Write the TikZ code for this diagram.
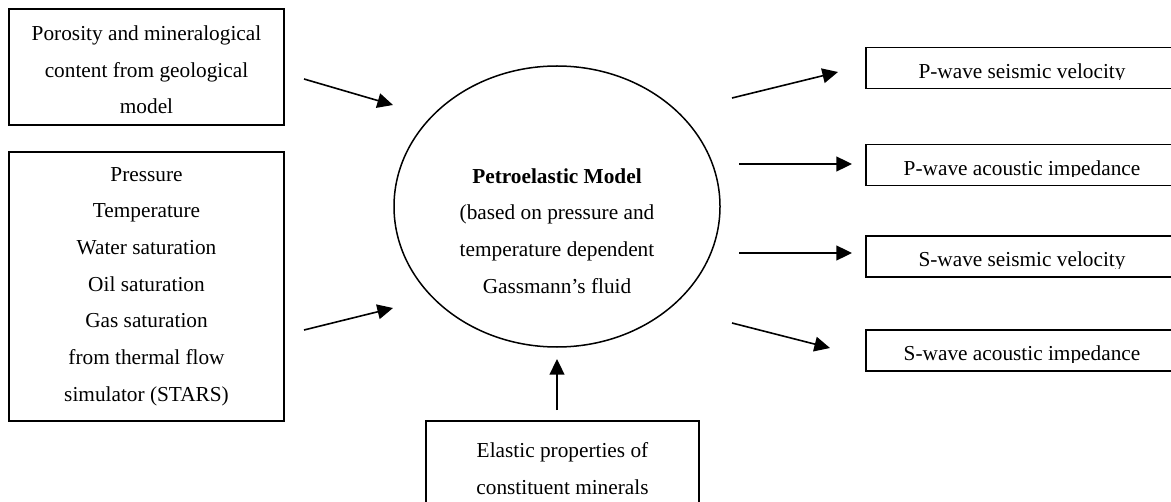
\documentclass[tikz,border=0pt]{standalone}
\usepackage{fontspec}
\setmainfont{Liberation Serif}
\usetikzlibrary{arrows.meta}
\usetikzlibrary{shapes.geometric}

\tikzset{
	inbox/.style={draw, line width=0.9pt, rectangle, align=center, inner sep=0pt, minimum width=137.5pt},
	outbox/.style={draw, line width=0.9pt, rectangle, inner sep=0pt, minimum width=156pt, minimum height=20.5pt},
	flow/.style={-{Triangle[length=7.8pt,width=7.4pt]}, line width=0.8pt}
}

\begin{document}
\begin{tikzpicture}[x=0.5pt, y=-0.5pt, font=\fontsize{10.65pt}{18.35pt}\selectfont]
	\useasboundingbox (0,0) rectangle (1171,502);
	\clip (0,0) rectangle (1171,502);

	% input boxes
	\node[inbox, minimum height=58pt] (poro) at (146.5,67) {};
	\node[align=center] (porotext) at (146.5,70) {Porosity and mineralogical\\content from geological\\model};
	\node[inbox, minimum height=134.5pt] (stars) at (146.5,286.5) {Pressure\\Temperature\\Water saturation\\Oil saturation\\Gas saturation\\from thermal flow\\simulator (STARS)};
	\node[inbox, minimum width=136.5pt, minimum height=47.5pt] (elastic) at (562.5,468.5) {Elastic properties of\\constituent minerals};

	% model
	\node[draw, ellipse, line width=0.75pt, inner sep=0pt, minimum width=163pt, minimum height=140.5pt] (pem) at (557,206.5) {};
	\node[align=center] (pemtext) at (557,231) {\textbf{Petroelastic Model}\\(based on pressure and\\temperature dependent\\Gassmann’s fluid};

	% outputs
	\foreach \nm/\cy/\txt in {pvel/68/{P-wave seismic velocity}, pimp/165/{P-wave acoustic impedance}, svel/256.5/{S-wave seismic velocity}, simp/350.5/{S-wave acoustic impedance}} {
		\node[outbox] (\nm) at (1022,\cy) {};
		\begin{scope}
			\clip (\nm.north west) rectangle ([yshift=4.7pt]\nm.south east);
			\node[anchor=base, inner sep=0pt] (\nm-text) at ([yshift=5.5pt]\nm.south) {\txt};
		\end{scope}
	}

	% arrow ends
	\coordinate (t1) at (304,79);   \coordinate (h1) at (393,105);
	\coordinate (t2) at (304,330);  \coordinate (h2) at (393,308);
	\coordinate (t3) at (557,410);  \coordinate (h3) at (557,359);
	\coordinate (t4) at (732,98);   \coordinate (h4) at (838,72);
	\coordinate (t5) at (739,164);  \coordinate (h5) at (852,164);
	\coordinate (t6) at (739,253);  \coordinate (h6) at (852,253);
	\coordinate (t7) at (732,323);  \coordinate (h7) at (830,348);

	\begin{scope}[every edge/.style={draw, flow}]
		\path (t1) edge (h1);
		\path (t2) edge (h2);
		\path (t3) edge (h3);
		\path (t4) edge (h4);
		\path (t5) edge (h5);
		\path (t6) edge (h6);
		\path (t7) edge (h7);
	\end{scope}
\end{tikzpicture}
\end{document}
